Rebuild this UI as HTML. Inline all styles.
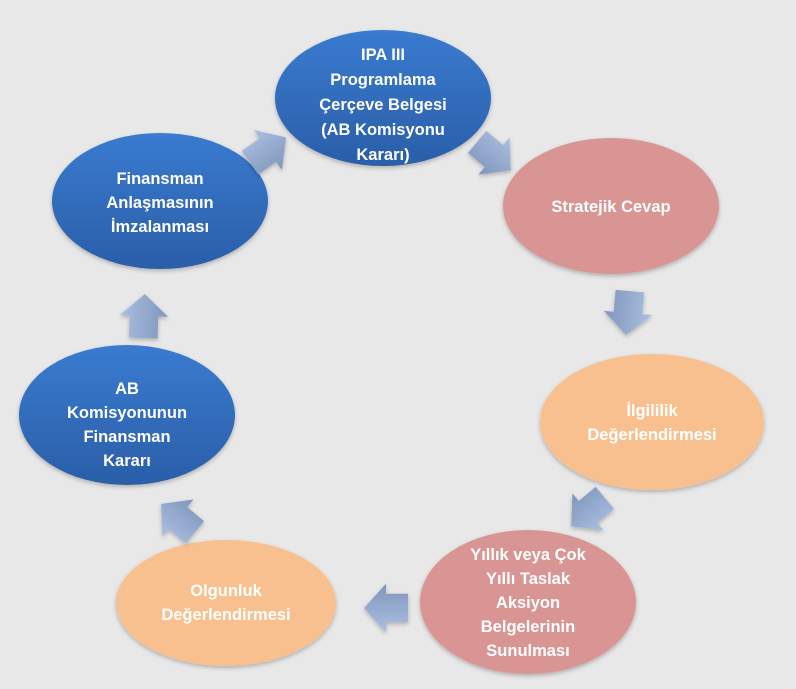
<!DOCTYPE html>
<html><head><meta charset="utf-8"><style>
html,body{margin:0;padding:0;background:#e8e8e8;}
svg{display:block;}
text{font-family:"Liberation Sans",sans-serif;font-weight:bold;font-size:16.5px;fill:#fff;text-anchor:middle;}
</style></head><body>
<svg width="796" height="689" viewBox="0 0 796 689" xmlns="http://www.w3.org/2000/svg">
<defs>
<linearGradient id="bl" x1="0" y1="0" x2="0" y2="1"><stop offset="0" stop-color="#3a7bd0"/><stop offset="1" stop-color="#2a5ea8"/></linearGradient>
<linearGradient id="ar" x1="0" y1="0" x2="0" y2="1"><stop offset="0" stop-color="#aabfe0"/><stop offset="1" stop-color="#7f95bc"/></linearGradient>
<filter id="sh" x="-20%" y="-20%" width="140%" height="140%"><feDropShadow dx="0" dy="2" stdDeviation="2" flood-color="#000" flood-opacity="0.25"/></filter>
</defs>
<g filter="url(#sh)">
<ellipse cx="383" cy="98" rx="108" ry="68" fill="url(#bl)"/>
<ellipse cx="611" cy="206" rx="108" ry="68" fill="#d99594"/>
<ellipse cx="652" cy="422" rx="112" ry="68" fill="#f9c08f"/>
<ellipse cx="528" cy="602" rx="108" ry="72" fill="#d99594"/>
<ellipse cx="226" cy="603" rx="110" ry="63" fill="#f9c08f"/>
<ellipse cx="127" cy="415" rx="108" ry="70" fill="url(#bl)"/>
<ellipse cx="160" cy="201" rx="108" ry="68" fill="url(#bl)"/>
</g>
<g filter="url(#sh)" fill="url(#ar)">
<path transform="translate(268,150) rotate(-35) scale(1.1)" d="M-20,-13 L0,-13 L0,-22 L20,0 L0,22 L0,13 L-20,13 Z"/>
<path transform="translate(494,156) rotate(40) scale(1.1)" d="M-20,-13 L0,-13 L0,-22 L20,0 L0,22 L0,13 L-20,13 Z"/>
<path transform="translate(628,313) rotate(95) scale(1.1)" d="M-20,-13 L0,-13 L0,-22 L20,0 L0,22 L0,13 L-20,13 Z"/>
<path transform="translate(588,512) rotate(140) scale(1.1)" d="M-20,-13 L0,-13 L0,-22 L20,0 L0,22 L0,13 L-20,13 Z"/>
<path transform="translate(386,608) rotate(180) scale(1.1)" d="M-20,-13 L0,-13 L0,-22 L20,0 L0,22 L0,13 L-20,13 Z"/>
<path transform="translate(178,518) rotate(-140) scale(1.1)" d="M-20,-13 L0,-13 L0,-22 L20,0 L0,22 L0,13 L-20,13 Z"/>
<path transform="translate(144,316) rotate(-88) scale(1.1)" d="M-20,-13 L0,-13 L0,-22 L20,0 L0,22 L0,13 L-20,13 Z"/>
</g>
<text x="383" y="60">IPA III</text>
<text x="383" y="85">Programlama</text>
<text x="383" y="110">Çerçeve Belgesi</text>
<text x="383" y="135">(AB Komisyonu</text>
<text x="383" y="160">Kararı)</text>
<text x="611" y="212">Stratejik Cevap</text>
<text x="652" y="416">İlgililik</text>
<text x="652" y="440">Değerlendirmesi</text>
<text x="528" y="560">Yıllık veya Çok</text>
<text x="528" y="584">Yıllı Taslak</text>
<text x="528" y="608">Aksiyon</text>
<text x="528" y="632">Belgelerinin</text>
<text x="528" y="656">Sunulması</text>
<text x="226" y="596">Olgunluk</text>
<text x="226" y="620">Değerlendirmesi</text>
<text x="127" y="394">AB</text>
<text x="127" y="418">Komisyonunun</text>
<text x="127" y="442">Finansman</text>
<text x="127" y="466">Kararı</text>
<text x="160" y="184">Finansman</text>
<text x="160" y="208">Anlaşmasının</text>
<text x="160" y="232">İmzalanması</text>
</svg>
</body></html>
